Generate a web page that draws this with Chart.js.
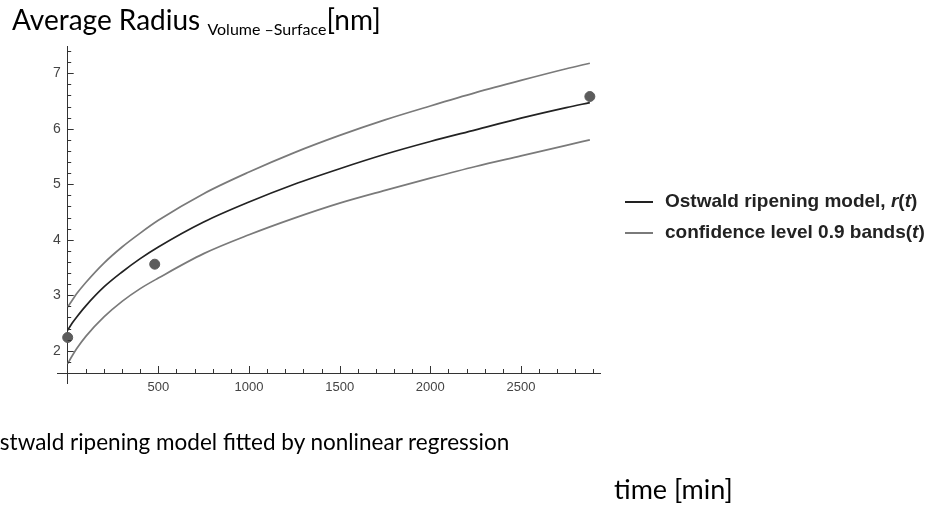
<!DOCTYPE html>
<html>
<head>
<meta charset="utf-8">
<script src="https://cdn.jsdelivr.net/npm/chart.js@4"></script>
<style>
  html, body { margin: 0; padding: 0; background: #fff; }
  #wrap { position: relative; width: 941px; height: 507px; overflow: hidden; }
  #chart { position: absolute; left: 0; top: 0; }
  .txt { position: absolute; font-family: Lato, "Open Sans", sans-serif; color: #000; white-space: nowrap; }
  #title { left: 12px; top: 2px; font-size: 28px; }
  #title .sub { font-size: 16px; position: relative; top: 5px; }
  #caption { left: -18px; top: 428px; font-size: 22.5px; }
  #xlabel { left: 614px; top: 472px; font-size: 27px; }
  #legend { position: absolute; left: 625px; top: 185px; font-family: "Liberation Sans", Arial, sans-serif; font-weight: bold; font-size: 19px; color: #222; }
  #legend .row { height: 31px; line-height: 31px; white-space: nowrap; }
  #legend .ln { display: inline-block; width: 28px; height: 2px; vertical-align: middle; margin-right: 12px; }
</style>
</head>
<body>
<div id="wrap">
  <canvas id="chart" width="941" height="507"></canvas>
  <div id="title" class="txt">Average Radius <span class="sub">Volume –Surface</span>[nm]</div>
  <div id="caption" class="txt">Ostwald ripening model fitted by nonlinear regression</div>
  <div id="xlabel" class="txt">time [min]</div>
  <div id="legend"></div>
</div>
<script>
// curve samples (time in min, radius in nm)
var curveTimes  = [0, 25, 50, 100, 200, 300, 400, 500, 750, 1000, 1250, 1500, 1750, 2000, 2250, 2500, 2750, 2880];
var modelRadius = [2.37, 2.50, 2.61, 2.81, 3.15, 3.42, 3.66, 3.87, 4.32, 4.68, 5.00, 5.28, 5.54, 5.77, 5.98, 6.19, 6.38, 6.47];
var upperBand   = [2.79, 2.91, 3.03, 3.23, 3.58, 3.87, 4.12, 4.35, 4.83, 5.22, 5.57, 5.88, 6.16, 6.41, 6.65, 6.87, 7.08, 7.18];
var lowerBand   = [1.77, 1.91, 2.04, 2.26, 2.61, 2.89, 3.12, 3.31, 3.75, 4.09, 4.39, 4.66, 4.89, 5.11, 5.32, 5.51, 5.70, 5.80];

// measured points
var sampleTimes  = [0, 480, 2880];
var sampleRadius = [2.24, 3.56, 6.58];

var xTickValues = [500, 1000, 1500, 2000, 2500];
var yTickValues = [2, 3, 4, 5, 6, 7];

var legendLabels = ['Ostwald ripening model,  r(t)', 'confidence level 0.9 bands(t)'];

function toPoints(xs, ys) {
    return xs.map(function (x, i) { return { x: x, y: ys[i] }; });
}

// Mathematica style ticks: pointing into the plot, minor ones shorter
var insideTicks = {
    id: 'insideTicks',
    afterDatasetsDraw: function (chart) {
        var ctx = chart.ctx;
        var xs = chart.scales.x, ys = chart.scales.y;
        var x0 = xs.getPixelForValue(0);
        var y0 = ys.getPixelForValue(1.6);
        ctx.save();
        ctx.strokeStyle = '#333';
        ctx.lineWidth = 1;
        ctx.beginPath();
        for (var t = 100; t <= 2900; t += 100) {
            var px = Math.round(xs.getPixelForValue(t)) + 0.5;
            var len = xTickValues.indexOf(t) >= 0 ? 7 : 4;
            ctx.moveTo(px, y0);
            ctx.lineTo(px, y0 - len);
        }
        for (var k = 9; k <= 37; k++) {
            var py = Math.round(ys.getPixelForValue(k / 5)) + 0.5;
            var l2 = (k % 5 === 0) ? 6 : 3.5;
            ctx.moveTo(x0, py);
            ctx.lineTo(x0 + l2, py);
        }
        ctx.stroke();
        ctx.restore();
    }
};

var htmlLegend = {
    id: 'htmlLegend',
    afterUpdate: function (chart) {
        var box = document.getElementById('legend');
        box.innerHTML = '';
        var items = chart.options.plugins.legend.labels.generateLabels(chart);
        items.forEach(function (item) {
            if (!item.text) return;
            var row = document.createElement('div');
            row.className = 'row';
            var ln = document.createElement('span');
            ln.className = 'ln';
            ln.style.background = item.strokeStyle;
            var txt = document.createElement('span');
            txt.innerHTML = item.text
                .replace(/\br\(/, '<i>r</i>(')
                .replace(/\(t\)/g, '(<i>t</i>)');
            row.appendChild(ln);
            row.appendChild(txt);
            box.appendChild(row);
        });
    }
};

var ctx = document.getElementById('chart').getContext('2d');
var radiusChart = new Chart(ctx, {
    type: 'line',
    data: {
        datasets: [{
            type: 'scatter',
            label: '',
            data: toPoints(sampleTimes, sampleRadius),
            backgroundColor: '#5c5c5c',
            borderColor: '#5c5c5c',
            pointRadius: 5,
            order: 0
        }, {
            label: legendLabels[0],
            data: toPoints(curveTimes, modelRadius),
            borderColor: '#222222',
            borderWidth: 1.7,
            pointRadius: 0,
            cubicInterpolationMode: 'monotone',
            fill: false,
            order: 1
        }, {
            label: legendLabels[1],
            data: toPoints(curveTimes, upperBand),
            borderColor: '#7a7a7a',
            borderWidth: 1.7,
            pointRadius: 0,
            cubicInterpolationMode: 'monotone',
            fill: false,
            order: 2
        }, {
            label: '',
            data: toPoints(curveTimes, lowerBand),
            borderColor: '#7a7a7a',
            borderWidth: 1.7,
            pointRadius: 0,
            cubicInterpolationMode: 'monotone',
            fill: false,
            order: 2
        }]
    },
    options: {
        responsive: false,
        animation: false,
        layout: { padding: { left: 57, top: 46, right: 341, bottom: 124 } },
        plugins: {
            legend: { display: false },
            tooltip: { enabled: false }
        },
        scales: {
            x: {
                type: 'linear',
                min: -59,
                max: 2936,
                position: { y: 1.6 },
                grid: { display: false, drawTicks: false },
                border: { color: '#333', width: 1 },
                afterBuildTicks: function (scale) {
                    scale.ticks = xTickValues.map(function (v) { return { value: v }; });
                },
                ticks: {
                    color: '#444',
                    padding: 7,
                    maxRotation: 0,
                    font: { family: '"Liberation Sans", Arial', size: 13 },
                    callback: function (value) { return String(value); }
                }
            },
            y: {
                type: 'linear',
                min: 1.42,
                max: 7.49,
                position: { x: 0 },
                grid: { display: false, drawTicks: false },
                border: { color: '#333', width: 1 },
                afterBuildTicks: function (scale) {
                    scale.ticks = yTickValues.map(function (v) { return { value: v }; });
                },
                ticks: {
                    color: '#444',
                    font: { family: '"Liberation Sans", Arial', size: 14 },
                    // labels of a value-positioned axis sit on the line, keep a gap
                    callback: function (value) { return value + '\u2002'; }
                }
            }
        }
    },
    plugins: [insideTicks, htmlLegend]
});
</script>
</body>
</html>
